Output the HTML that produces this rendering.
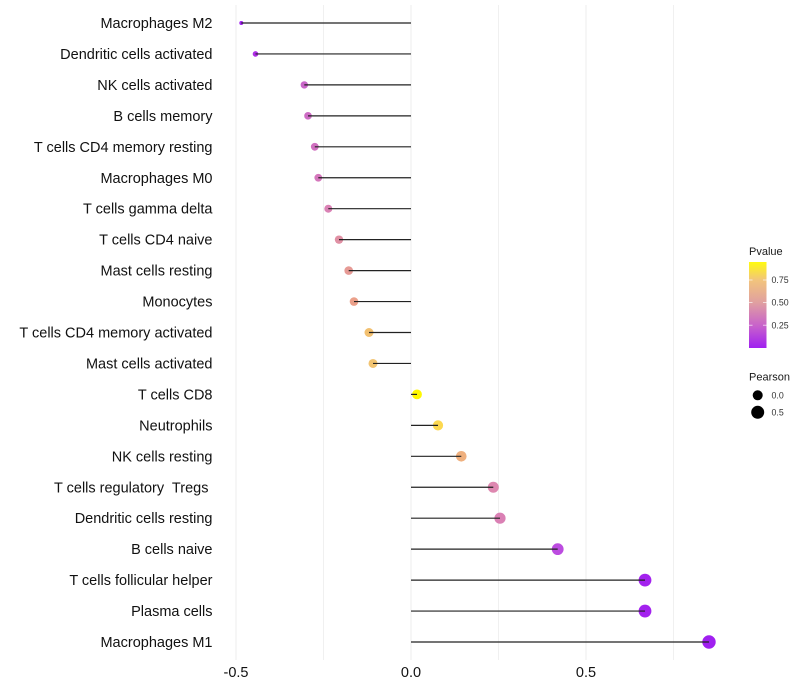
<!DOCTYPE html>
<html><head><meta charset="utf-8"><style>
html,body{margin:0;padding:0;background:#fff;}
svg{display:block;}
text{font-family:"Liberation Sans",Arial,sans-serif;}
</style></head><body>
<svg width="800" height="700" viewBox="0 0 800 700" xmlns="http://www.w3.org/2000/svg">
<defs>
<linearGradient id="pg" x1="0" y1="1" x2="0" y2="0">
<stop offset="0" stop-color="#A020F0"/>
<stop offset="0.26" stop-color="#C862CB"/>
<stop offset="0.53" stop-color="#E0A0A0"/>
<stop offset="0.79" stop-color="#F2C47C"/>
<stop offset="1" stop-color="#FFFA10"/>
</linearGradient>
</defs>
<rect width="800" height="700" fill="#fff"/>
<!-- grid -->
<g stroke="#EDEDED">
<line x1="323.5" y1="5" x2="323.5" y2="660" stroke-width="0.8"/>
<line x1="498.5" y1="5" x2="498.5" y2="660" stroke-width="0.8"/>
<line x1="673.5" y1="5" x2="673.5" y2="660" stroke-width="0.8"/>
<line x1="236" y1="5" x2="236" y2="660" stroke-width="1"/>
<line x1="411" y1="5" x2="411" y2="660" stroke-width="1"/>
<line x1="586" y1="5" x2="586" y2="660" stroke-width="1"/>
</g>
<!-- points -->
<g>
<circle cx="241.3" cy="23" r="2.0" fill="#A020F0"/>
<circle cx="255.5" cy="53.95" r="2.8" fill="#AE2DE6"/>
<circle cx="304.3" cy="84.9" r="3.7" fill="#C966C8"/>
<circle cx="308" cy="115.85" r="3.8" fill="#CD6CC4"/>
<circle cx="314.8" cy="146.8" r="3.9" fill="#D070C0"/>
<circle cx="318.3" cy="177.75" r="3.9" fill="#D577BC"/>
<circle cx="328.3" cy="208.7" r="4.0" fill="#DA82B5"/>
<circle cx="339" cy="239.65" r="4.2" fill="#E090A4"/>
<circle cx="348.7" cy="270.6" r="4.3" fill="#E69A95"/>
<circle cx="354" cy="301.55" r="4.3" fill="#EBA08A"/>
<circle cx="369" cy="332.5" r="4.5" fill="#F2C070"/>
<circle cx="373" cy="363.45" r="4.5" fill="#F2C472"/>
<circle cx="417" cy="394.4" r="4.9" fill="#FFF800"/>
<circle cx="438" cy="425.35" r="5.1" fill="#FCD850"/>
<circle cx="461.3" cy="456.3" r="5.3" fill="#EFB07E"/>
<circle cx="493.3" cy="487.25" r="5.5" fill="#DE88B0"/>
<circle cx="500" cy="518.2" r="5.6" fill="#DA80B4"/>
<circle cx="557.7" cy="549.15" r="5.9" fill="#BC4CE0"/>
<circle cx="645" cy="580.1" r="6.4" fill="#A322EE"/>
<circle cx="645" cy="611.05" r="6.4" fill="#A322EE"/>
<circle cx="709" cy="642" r="6.7" fill="#A020F0"/>
</g>
<!-- segments -->
<g stroke="#222" stroke-width="1.2">
<line x1="411" y1="23" x2="241.3" y2="23"/>
<line x1="411" y1="53.95" x2="255.5" y2="53.95"/>
<line x1="411" y1="84.9" x2="304.3" y2="84.9"/>
<line x1="411" y1="115.85" x2="308" y2="115.85"/>
<line x1="411" y1="146.8" x2="314.8" y2="146.8"/>
<line x1="411" y1="177.75" x2="318.3" y2="177.75"/>
<line x1="411" y1="208.7" x2="328.3" y2="208.7"/>
<line x1="411" y1="239.65" x2="339" y2="239.65"/>
<line x1="411" y1="270.6" x2="348.7" y2="270.6"/>
<line x1="411" y1="301.55" x2="354" y2="301.55"/>
<line x1="411" y1="332.5" x2="369" y2="332.5"/>
<line x1="411" y1="363.45" x2="373" y2="363.45"/>
<line x1="411" y1="394.4" x2="417" y2="394.4"/>
<line x1="411" y1="425.35" x2="438" y2="425.35"/>
<line x1="411" y1="456.3" x2="461.3" y2="456.3"/>
<line x1="411" y1="487.25" x2="493.3" y2="487.25"/>
<line x1="411" y1="518.2" x2="500" y2="518.2"/>
<line x1="411" y1="549.15" x2="557.7" y2="549.15"/>
<line x1="411" y1="580.1" x2="645" y2="580.1"/>
<line x1="411" y1="611.05" x2="645" y2="611.05"/>
<line x1="411" y1="642" x2="709" y2="642"/>
</g>
<!-- y labels -->
<g font-size="14.5" fill="#111" text-anchor="end">
<text x="212.5" y="28">Macrophages M2</text>
<text x="212.5" y="58.95">Dendritic cells activated</text>
<text x="212.5" y="89.9">NK cells activated</text>
<text x="212.5" y="120.85">B cells memory</text>
<text x="212.5" y="151.8">T cells CD4 memory resting</text>
<text x="212.5" y="182.75">Macrophages M0</text>
<text x="212.5" y="213.7">T cells gamma delta</text>
<text x="212.5" y="244.65">T cells CD4 naive</text>
<text x="212.5" y="275.6">Mast cells resting</text>
<text x="212.5" y="306.55">Monocytes</text>
<text x="212.5" y="337.5">T cells CD4 memory activated</text>
<text x="212.5" y="368.45">Mast cells activated</text>
<text x="212.5" y="399.4">T cells CD8</text>
<text x="212.5" y="430.35">Neutrophils</text>
<text x="212.5" y="461.3">NK cells resting</text>
<text x="212.5" y="492.25" xml:space="preserve">T cells regulatory  Tregs </text>
<text x="212.5" y="523.2">Dendritic cells resting</text>
<text x="212.5" y="554.15">B cells naive</text>
<text x="212.5" y="585.1">T cells follicular helper</text>
<text x="212.5" y="616.05">Plasma cells</text>
<text x="212.5" y="647">Macrophages M1</text>
</g>
<!-- x labels -->
<g font-size="14.5" fill="#111" text-anchor="middle">
<text x="236" y="677">-0.5</text>
<text x="411" y="677">0.0</text>
<text x="586" y="677">0.5</text>
</g>
<!-- legend Pvalue -->
<text x="749" y="255" font-size="11" fill="#1a1a1a">Pvalue</text>
<rect x="749" y="262" width="17.5" height="86" fill="url(#pg)"/>
<g stroke="#fff" stroke-width="0.8" opacity="0.8">
<line x1="749" y1="280" x2="752.5" y2="280"/><line x1="763" y1="280" x2="766.5" y2="280"/>
<line x1="749" y1="302.5" x2="752.5" y2="302.5"/><line x1="763" y1="302.5" x2="766.5" y2="302.5"/>
<line x1="749" y1="325.2" x2="752.5" y2="325.2"/><line x1="763" y1="325.2" x2="766.5" y2="325.2"/>
</g>
<g font-size="8.8" fill="#333">
<text x="771.5" y="283.2">0.75</text>
<text x="771.5" y="305.7">0.50</text>
<text x="771.5" y="328.4">0.25</text>
</g>
<!-- legend Pearson -->
<text x="749" y="380.5" font-size="11" fill="#1a1a1a">Pearson</text>
<circle cx="757.7" cy="395.3" r="5" fill="#000"/>
<circle cx="757.7" cy="412.3" r="6.5" fill="#000"/>
<g font-size="8.8" fill="#333">
<text x="771.5" y="398.5">0.0</text>
<text x="771.5" y="415.5">0.5</text>
</g>
</svg>
</body></html>
